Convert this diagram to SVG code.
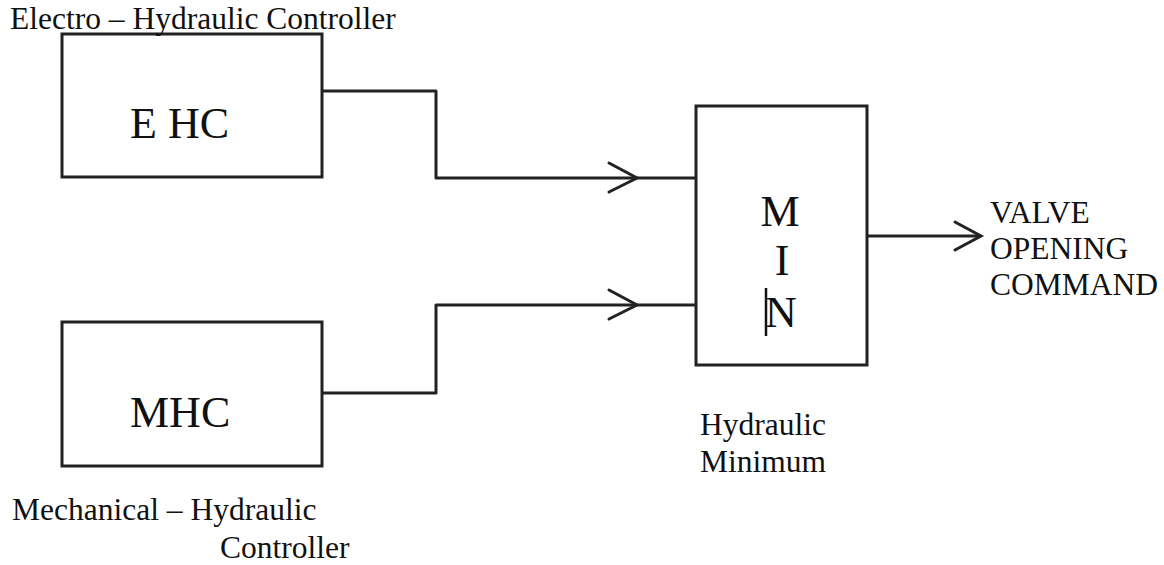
<svg xmlns="http://www.w3.org/2000/svg" width="1164" height="565" viewBox="0 0 1164 565">
<style>
.box{fill:#fff;stroke:#222;stroke-width:3}
.ln{fill:none;stroke:#222;stroke-width:3;stroke-linejoin:round}
.ah{fill:none;stroke:#222;stroke-width:3;stroke-linecap:round;stroke-linejoin:miter}
.t{font-family:"Liberation Serif","Times New Roman",serif;fill:#111}
.big{font-size:44px}
.mid{font-size:44px}
.lbl{font-size:31.5px}
.out{font-size:31.5px}
</style>
<rect width="1164" height="565" fill="#fff"/>
<g id="connectors">
<path class="ln" d="M322,91 H436 V178 H696"/>
<path class="ah" d="M609,163 L637,178 L609,192"/>
<path class="ln" d="M322,393 H436 V305 H696"/>
<path class="ah" d="M609,290 L637,305 L609,319"/>
<path class="ln" d="M867,236 H981"/>
<path class="ah" d="M955,222 L981,236 L955,250"/>
</g>
<g id="ehc">
<rect class="box" x="62" y="34" width="260" height="143"/>
<text class="t big" x="130" y="138">E HC</text>
<text class="t lbl" x="10" y="29">Electro – Hydraulic Controller</text>
</g>
<g id="mhc">
<rect class="box" x="62" y="322" width="260" height="144"/>
<text class="t big" x="130" y="427">MHC</text>
<text class="t lbl" x="12" y="520">Mechanical – Hydraulic</text>
<text class="t lbl" x="220" y="558">Controller</text>
</g>
<g id="min">
<rect class="box" x="696" y="106" width="171" height="259"/>
<text class="t mid" x="780" y="226" text-anchor="middle">M</text>
<text class="t mid" x="782" y="275" text-anchor="middle">I</text>
<text class="t mid" x="781" y="327" text-anchor="middle">N</text>
<line x1="766" y1="288" x2="766" y2="336" stroke="#111" stroke-width="2.5"/>
<text class="t lbl" x="700" y="435">Hydraulic</text>
<text class="t lbl" x="700" y="472">Minimum</text>
</g>
<g id="output">
<text class="t out" x="990" y="223">VALVE</text>
<text class="t out" x="990" y="259">OPENING</text>
<text class="t out" x="990" y="295">COMMAND</text>
</g>
</svg>
